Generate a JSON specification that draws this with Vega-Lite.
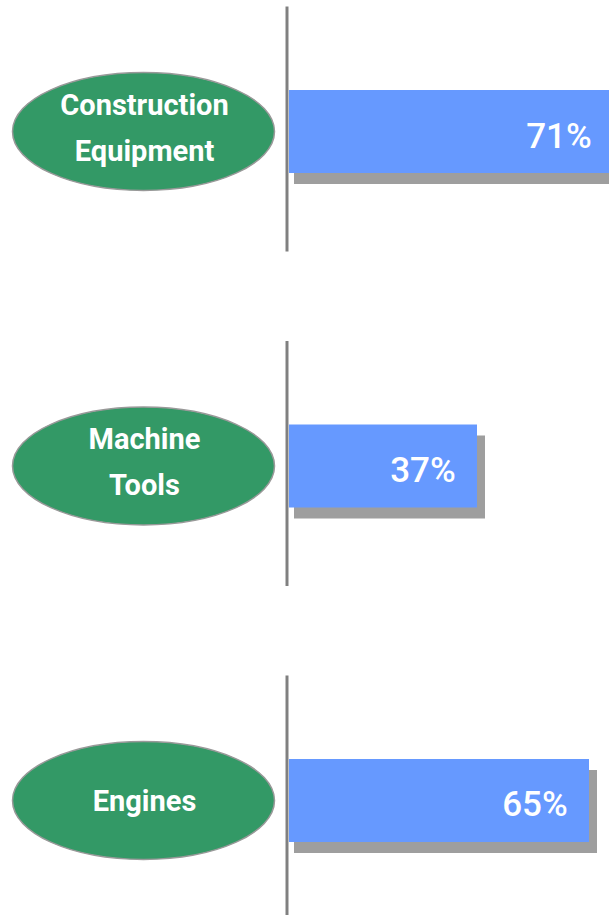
{
  "$schema": "https://vega.github.io/schema/vega-lite/v6.json",
  "padding": 0,
  "spacing": 0,
  "background": "white",
  "config": {"view": {"stroke": null}},
  "data": {
    "values": [
      {"sector": "Construction Equipment", "lines": ["Construction", "Equipment"], "share": 0.71},
      {"sector": "Machine Tools", "lines": ["Machine", "Tools"], "share": 0.37},
      {"sector": "Engines", "lines": ["Engines"], "share": 0.65}
    ]
  },
  "hconcat": [
    {
      "width": 285,
      "height": 932,
      "encoding": {
        "y": {"field": "sector", "type": "nominal", "sort": null, "axis": null,
              "scale": {"type": "band", "paddingInner": 0.7519, "paddingOuter": 0.2691}}
      },
      "layer": [
        {
          "mark": {"type": "point", "shape": "M -1 0 A 1 0.45 0 1 0 1 0 A 1 0.45 0 1 0 -1 0 Z",
                   "size": 68644, "filled": true, "fill": "#339966", "opacity": 1,
                   "stroke": "#999999", "strokeWidth": 1.5, "xOffset": 1}
        },
        {
          "transform": [{"filter": "length(datum.lines) > 1"}],
          "mark": {"type": "text", "font": "Roboto", "fontWeight": "bold",
                   "fontSize": 29, "color": "white", "align": "center", "baseline": "middle",
                   "lineHeight": 46, "xOffset": 2, "dy": -26},
          "encoding": {"text": {"field": "lines"}}
        },
        {
          "transform": [{"filter": "length(datum.lines) == 1"}],
          "mark": {"type": "text", "font": "Roboto", "fontWeight": "bold",
                   "fontSize": 29, "color": "white", "align": "center", "baseline": "middle",
                   "xOffset": 2, "dy": 2},
          "encoding": {"text": {"field": "lines"}}
        }
      ]
    },
    {
      "width": 324,
      "height": 932,
      "encoding": {
        "y": {"field": "sector", "type": "nominal", "sort": null, "axis": null,
              "scale": {"type": "band", "paddingInner": 0.7519, "paddingOuter": 0.2691}}
      },
      "layer": [
        {
          "mark": {"type": "bar", "color": "#9e9e9e", "xOffset": 8, "x2Offset": 5, "yOffset": 11, "y2Offset": 11},
          "encoding": {
            "x": {"field": "share", "type": "quantitative", "axis": null,
                  "scale": {"domain": [-0.105, 0.705], "zero": false, "nice": false}},
            "x2": {"datum": -0.1}
          }
        },
        {
          "mark": {"type": "bar", "color": "#6699ff"},
          "encoding": {
            "x": {"field": "share", "type": "quantitative"},
            "x2": {"datum": -0.1}
          }
        },
        {
          "mark": {"type": "rule", "color": "#808080", "strokeWidth": 3, "yOffset": -125, "y2Offset": 120},
          "encoding": {
            "x": {"datum": -0.105},
            "y": {"field": "sector", "type": "nominal", "sort": null, "bandPosition": 0.5},
            "y2": {"field": "sector", "bandPosition": 0.5}
          }
        },
        {
          "mark": {"type": "text", "font": "Roboto", "fontSize": 35, "fontWeight": 500,
                   "color": "white", "align": "center", "baseline": "middle", "dx": -54, "dy": 5},
          "encoding": {
            "x": {"field": "share", "type": "quantitative"},
            "text": {"field": "share", "type": "quantitative", "format": ".0%"}
          }
        }
      ]
    }
  ]
}
